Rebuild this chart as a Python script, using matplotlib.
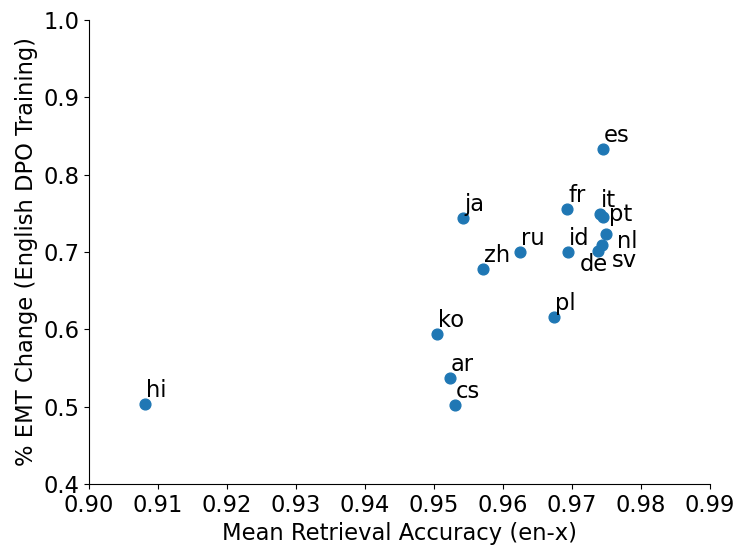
import matplotlib.pyplot as plt

langs = ['hi', 'cs', 'ar', 'ko', 'ja', 'zh', 'ru', 'pl', 'fr', 'id',
         'es', 'it', 'pt', 'nl', 'sv', 'de']
retrieval = [0.9081, 0.9530, 0.9523, 0.9504, 0.9542, 0.9571, 0.9625, 0.9674,
             0.9693, 0.9694, 0.9745, 0.9741, 0.9745, 0.9749, 0.9744, 0.9737]
emt_change = [0.503, 0.502, 0.537, 0.594, 0.744, 0.678, 0.700, 0.616,
              0.756, 0.700, 0.833, 0.749, 0.745, 0.723, 0.709, 0.701]

# label offsets (points), default is just above-right of the marker
offsets = {'pt': (4.5, -2.5), 'nl': (8, -10), 'sv': (6.5, -16), 'de': (-13, -14)}

plt.rcParams['font.size'] = 16.3
fig = plt.figure(figsize=(7.48, 5.59), dpi=100)
ax = fig.add_axes([89 / 748, 1 - 484 / 559, 621 / 748, 464 / 559])

ax.scatter(retrieval, emt_change, s=60, color='#1f77b4', zorder=3)
for lang, x, y in zip(langs, retrieval, emt_change):
    ax.annotate(lang, (x, y), xytext=offsets.get(lang, (0.7, 5)),
                textcoords='offset points', va='baseline', ha='left')

ax.set_xlim(0.90, 0.99)
ax.set_ylim(0.4, 1.0)
ax.set_xticks([0.90 + 0.01 * i for i in range(10)])
ax.set_xticklabels(['%.2f' % (0.90 + 0.01 * i) for i in range(10)])
ax.set_yticks([0.4 + 0.1 * i for i in range(7)])
ax.set_yticklabels(['%.1f' % (0.4 + 0.1 * i) for i in range(7)])
ax.spines['top'].set_visible(False)
ax.spines['right'].set_visible(False)
ax.set_xlabel('Mean Retrieval Accuracy (en-x)')
ax.set_ylabel('% EMT Change (English DPO Training)')

plt.savefig('out.png', dpi=100)
